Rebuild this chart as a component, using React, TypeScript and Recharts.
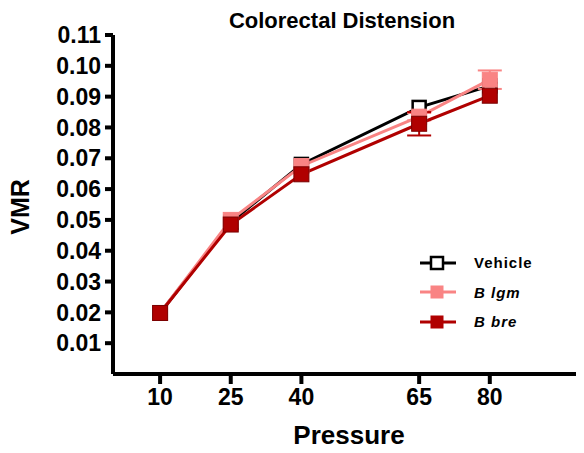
import React from 'react';
import { LineChart, Line, XAxis, YAxis, ErrorBar } from 'recharts';

const pressures = [10, 25, 40, 65, 80];
const vehicle = [0.0198, 0.0492, 0.068, 0.0865, 0.0935];
const vehicleErr = [null, null, null, null, 0.001];
const bLgm = [0.0198, 0.05, 0.0675, 0.0835, 0.0955];
const bLgmErr = [null, null, null, 0.0012, 0.003];
const bBre = [0.0198, 0.0485, 0.0648, 0.0812, 0.0903];
const bBreErr = [null, null, null, 0.0038, null];
const yTicks = [0.01, 0.02, 0.03, 0.04, 0.05, 0.06, 0.07, 0.08, 0.09, 0.1, 0.11];

const chartData = pressures.map((p, i) => ({
  pressure: p,
  vehicle: vehicle[i],
  vehicleErr: vehicleErr[i],
  lgm: bLgm[i],
  lgmErr: bLgmErr[i],
  bre: bBre[i],
  breErr: bBreErr[i],
}));

const FONT = '"Liberation Sans", Arial, sans-serif';
const BLACK = '#000000';
const PINK = '#f98484';
const DARK = '#b00000';

const squareDot = (fill: string, stroke: string, size: number) => (props: any) => {
  const { cx, cy, index } = props;
  if (cx == null || cy == null) return <g key={index} />;
  return (
    <rect
      key={index}
      x={cx - size / 2}
      y={cy - size / 2}
      width={size}
      height={size}
      fill={fill}
      stroke={stroke}
      strokeWidth={fill === '#ffffff' ? 2.5 : 1}
    />
  );
};

const legendItems = [
  { label: 'Vehicle', color: BLACK, fill: '#ffffff', italic: false },
  { label: 'B lgm', color: PINK, fill: PINK, italic: true },
  { label: 'B bre', color: DARK, fill: DARK, italic: true },
];

export default function App() {
  return (
    <div style={{ position: 'relative', margin: -8, width: 584, height: 453, background: '#fff', fontFamily: FONT, overflow: 'hidden' }}>
      <LineChart width={584} height={453} data={chartData} margin={{ top: 35, right: 0, bottom: 0, left: 0 }}>
        <XAxis
          dataKey="pressure"
          type="number"
          domain={[0, 100]}
          ticks={pressures}
          interval={0}
          height={79}
          axisLine={{ stroke: BLACK, strokeWidth: 4 }}
          tickLine={{ stroke: BLACK, strokeWidth: 4 }}
          tickSize={10}
          tickMargin={5}
          tick={{ fill: BLACK, fontSize: 23, fontWeight: 'bold', fontFamily: FONT }}
        />
        <YAxis
          type="number"
          domain={[0, 0.11]}
          ticks={yTicks}
          interval={0}
          width={113}
          axisLine={{ stroke: BLACK, strokeWidth: 4 }}
          tickLine={{ stroke: BLACK, strokeWidth: 4 }}
          tickSize={8}
          tickMargin={4}
          tickFormatter={(v: number) => v.toFixed(2)}
          tick={{ fill: BLACK, fontSize: 23, fontWeight: 'bold', fontFamily: FONT }}
        />
        <Line
          dataKey="vehicle"
          stroke={BLACK}
          strokeWidth={3}
          dot={squareDot('#ffffff', BLACK, 13)}
          isAnimationActive={false}
        >
          <ErrorBar dataKey="vehicleErr" width={8} stroke={BLACK} strokeWidth={2} direction="y" />
        </Line>
        <Line
          dataKey="lgm"
          stroke={PINK}
          strokeWidth={3}
          dot={squareDot(PINK, PINK, 15)}
          isAnimationActive={false}
        >
          <ErrorBar dataKey="lgmErr" width={12} stroke={PINK} strokeWidth={2} direction="y" />
        </Line>
        <Line
          dataKey="bre"
          stroke={DARK}
          strokeWidth={3}
          dot={squareDot(DARK, '#7a0000', 15)}
          isAnimationActive={false}
        >
          <ErrorBar dataKey="breErr" width={12} stroke={DARK} strokeWidth={2} direction="y" />
        </Line>
      </LineChart>

      <div style={{ position: 'absolute', left: 0, width: 684, top: 8, textAlign: 'center', fontSize: 22, fontWeight: 'bold', lineHeight: '26px' }}>
        Colorectal Distension
      </div>
      <div style={{ position: 'absolute', left: 0, width: 698, top: 420, textAlign: 'center', fontSize: 26, fontWeight: 'bold', lineHeight: '30px' }}>
        Pressure
      </div>
      <div
        style={{
          position: 'absolute',
          left: 20,
          top: 207,
          transform: 'translate(-50%, -50%) rotate(-90deg)',
          fontSize: 25,
          fontWeight: 'bold',
          lineHeight: '28px',
          whiteSpace: 'nowrap',
        }}
      >
        VMR
      </div>

      <div style={{ position: 'absolute', left: 418, top: 248 }}>
        {legendItems.map((item) => (
          <div key={item.label} style={{ display: 'flex', alignItems: 'center', height: 29.5 }}>
            <svg width={40} height={16}>
              <line x1={2} y1={8} x2={38} y2={8} stroke={item.color} strokeWidth={3} />
              <rect
                x={13}
                y={2}
                width={12}
                height={12}
                fill={item.fill}
                stroke={item.color}
                strokeWidth={item.fill === '#ffffff' ? 2.5 : 1}
              />
            </svg>
            <span
              style={{
                marginLeft: 16,
                fontSize: 15,
                fontWeight: 'bold',
                fontStyle: item.italic ? 'italic' : 'normal',
                letterSpacing: 1,
              }}
            >
              {item.label}
            </span>
          </div>
        ))}
      </div>
    </div>
  );
}
